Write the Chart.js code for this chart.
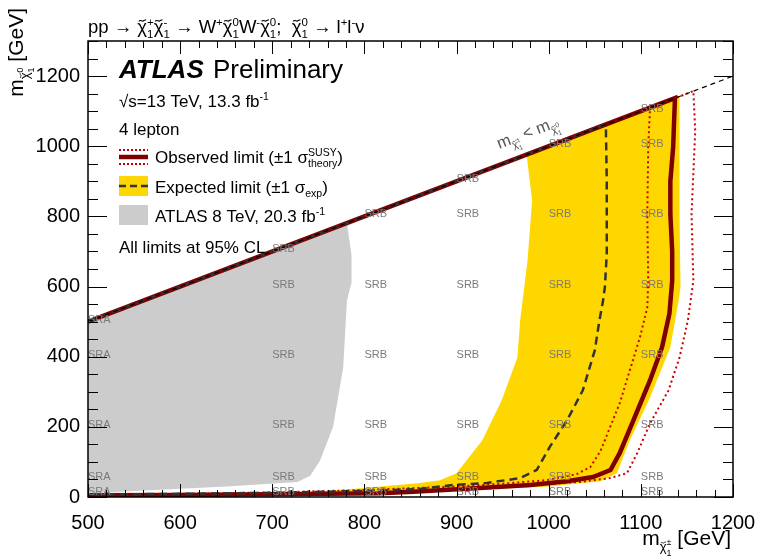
<!DOCTYPE html>
<html>
<head>
<meta charset="utf-8">
<script src="https://cdn.jsdelivr.net/npm/chart.js@4.4.1/dist/chart.umd.min.js"></script>
<style>
  html, body { margin: 0; padding: 0; background: #fff; }
</style>
</head>
<body>
<canvas id="myChart" width="757" height="559"></canvas>
<script>
// mass points in GeV: [m(chargino), m(neutralino)]
const kinematicLine = [[500, 500], [1200, 1200]];

const obsLimit = [[500, 500], [1137, 1137], [1135, 995], [1132, 900], [1132, 807], [1134, 700], [1134, 617],
    [1131, 523], [1123, 427], [1110, 333], [1092, 219], [1077, 125], [1067, 77], [1048, 57], [1020, 45],
    [980, 34], [925, 26], [853, 15], [817, 11], [700, 8], [600, 6], [500, 5]];

const obsTheoryDown = [[500, 500], [1110, 1110], [1108, 1000], [1107, 807], [1108, 617], [1107, 540],
    [1099, 455], [1088, 361], [1077, 267], [1064, 182], [1056, 130], [1045, 85], [1031, 66], [1016, 57],
    [998, 48], [950, 38], [900, 30], [800, 20], [700, 13], [600, 9], [500, 7]];

const obsTheoryUp = [[500, 500], [1157, 1157], [1159, 1043], [1155, 807], [1157, 617], [1151, 503],
    [1142, 398], [1130, 304], [1110, 210], [1096, 125], [1085, 68], [1067, 54], [1034, 43], [961, 32],
    [900, 22], [800, 12], [700, 7], [600, 4], [500, 3]];

const expLimit = [[500, 500], [1062, 1062], [1063, 900], [1063, 694], [1061, 600], [1059, 560], [1055, 503],
    [1050, 418], [1037, 304], [1020, 219], [1001, 142], [987, 77], [969, 54], [933, 40], [896, 34],
    [860, 23], [800, 17], [700, 12], [600, 9], [500, 7]];

// +1 sigma edge then -1 sigma edge back, closed
const expBand = [[976, 976], [1142, 1142], [1142, 1000], [1142, 807], [1143, 597], [1141, 560], [1132, 427],
    [1110, 284], [1088, 162], [1074, 68], [1056, 45], [1000, 30], [900, 18], [800, 10], [700, 6], [600, 3],
    [500, 2], [500, 5], [600, 7], [700, 10], [750, 16], [800, 26], [860, 40], [882, 48], [900, 68],
    [928, 162], [949, 276], [966, 398], [969, 503], [977, 674], [982, 845], [976, 976]];

const atlas8TeV = [[500, 11], [500, 500], [781, 781], [786, 690], [786, 611], [781, 560], [777, 370],
    [766, 200], [752, 105], [741, 60], [727, 43], [650, 30], [500, 11]];

// signal region labels at the grid points
const srPoints = [
    [500, 500, 'SRA'], [500, 400, 'SRA'], [500, 200, 'SRA'], [500, 50, 'SRA'], [500, 10, 'SRA'],
    [700, 700, 'SRB'], [700, 600, 'SRB'], [700, 400, 'SRB'], [700, 200, 'SRB'], [700, 50, 'SRB'], [700, 10, 'SRB'],
    [800, 800, 'SRB'], [800, 600, 'SRB'], [800, 400, 'SRB'], [800, 200, 'SRB'], [800, 50, 'SRB'], [800, 10, 'SRB'],
    [900, 900, 'SRB'], [900, 800, 'SRB'], [900, 600, 'SRB'], [900, 400, 'SRB'], [900, 200, 'SRB'], [900, 50, 'SRB'], [900, 10, 'SRB'],
    [1000, 1000, 'SRB'], [1000, 800, 'SRB'], [1000, 600, 'SRB'], [1000, 400, 'SRB'], [1000, 200, 'SRB'], [1000, 50, 'SRB'], [1000, 10, 'SRB'],
    [1100, 1100, 'SRB'], [1100, 1000, 'SRB'], [1100, 800, 'SRB'], [1100, 600, 'SRB'], [1100, 400, 'SRB'], [1100, 200, 'SRB'], [1100, 50, 'SRB'], [1100, 10, 'SRB']
];

const xRange = [500, 1200];
const yRange = [0, 1300];

const FONT = '"Liberation Sans", Arial, sans-serif';
const CHI = 'χ';

function pts(arr) {
    return arr.map(p => ({x: p[0], y: p[1]}));
}

// draws a row of text pieces with their own size / vertical shift
function rich(ctx, parts, x, y, size, draw) {
    let cx = x, held = 0;
    for (const p of parts) {
        const fs = size * (p.s || 1);
        ctx.font = (p.f || '') + ' ' + fs + 'px ' + FONT;
        const w = ctx.measureText(p.t).width;
        const by = y + (p.dy || 0) * size;
        if (draw) {
            ctx.fillText(p.t, cx, by);
            if (p.tilde) {
                // small tilde above the chi
                ctx.save();
                ctx.lineWidth = Math.max(0.8, fs * 0.06);
                ctx.strokeStyle = ctx.fillStyle;
                const tw = w * 0.75, tx = cx + w * 0.15, ty = by - fs * 0.66;
                ctx.beginPath();
                ctx.moveTo(tx, ty + fs * 0.03);
                ctx.bezierCurveTo(tx + tw * 0.3, ty - fs * 0.12, tx + tw * 0.45, ty + fs * 0.12, tx + tw * 0.7, ty - fs * 0.02);
                ctx.lineTo(tx + tw, ty - fs * 0.06);
                ctx.stroke();
                ctx.restore();
            }
        }
        if (p.hold) {
            held = Math.max(held, w);
        } else {
            cx += Math.max(w, held);
            held = 0;
        }
    }
    return cx - x;
}
const T = t => ({t});
const CH = () => ({t: CHI, tilde: true});
const SUP = t => ({t, s: 0.62, dy: -0.4});
const SUB = t => ({t, s: 0.62, dy: 0.25});
const SS = (a, b) => [{t: a, s: 0.62, dy: -0.4, hold: true}, {t: b, s: 0.62, dy: 0.25}];
const chiSub = (a, b) => [{t: CHI, s: 0.62, dy: 0.3, tilde: true}, {t: a, s: 0.42, dy: 0.02, hold: true}, {t: b, s: 0.42, dy: 0.52}];

const decor = {
    id: 'decor',
    afterDatasetsDraw(chart) {
        const {ctx, chartArea: a, scales: {x, y}} = chart;
        ctx.save();

        // signal region labels
        ctx.fillStyle = '#7a7a7a';
        ctx.font = '11px ' + FONT;
        ctx.textBaseline = 'middle';
        srPoints.forEach(p => {
            ctx.fillText(p[2], x.getPixelForValue(p[0]), y.getPixelForValue(p[1]) - 2);
        });
        ctx.textBaseline = 'alphabetic';

        // kinematic label along the diagonal
        const x0 = x.getPixelForValue(952), y0 = y.getPixelForValue(952);
        const ang = Math.atan2(y.getPixelForValue(1200) - y.getPixelForValue(500),
            x.getPixelForValue(1200) - x.getPixelForValue(500));
        ctx.save();
        ctx.translate(x0 + 15 * Math.sin(ang), y0 - 15 * Math.cos(ang));
        ctx.rotate(ang);
        ctx.fillStyle = '#555';
        rich(ctx, [T('m'), ...chiSub('±', '1'), T(' < m'), ...chiSub('0', '1')], 0, 0, 16.5, true);
        ctx.restore();

        // frame
        ctx.strokeStyle = '#000';
        ctx.lineWidth = 1.5;
        ctx.strokeRect(a.left, a.top, a.right - a.left, a.bottom - a.top);

        // inward ticks on all four sides
        ctx.lineWidth = 1;
        ctx.beginPath();
        for (let v = xRange[0]; v <= xRange[1]; v += 20) {
            const px = Math.round(x.getPixelForValue(v)) + 0.5;
            const len = v % 100 === 0 ? 13 : 7;
            ctx.moveTo(px, a.bottom); ctx.lineTo(px, a.bottom - len);
            ctx.moveTo(px, a.top); ctx.lineTo(px, a.top + len);
        }
        for (let v = yRange[0]; v <= yRange[1]; v += 50) {
            const py = Math.round(y.getPixelForValue(v)) + 0.5;
            const len = v % 200 === 0 ? 19 : 10;
            ctx.moveTo(a.left, py); ctx.lineTo(a.left + len, py);
            ctx.moveTo(a.right, py); ctx.lineTo(a.right - len, py);
        }
        ctx.stroke();

        // texts
        ctx.fillStyle = '#000';
        rich(ctx, [T('pp → '), CH(), ...SS('+', '1'), CH(), ...SS('-', '1'), T(' → W'), SUP('+'),
            CH(), ...SS('0', '1'), T('W'), SUP('-'), CH(), ...SS('0', '1'), T(';  '), CH(), ...SS('0', '1'),
            T(' → l'), SUP('+'), T('l'), SUP('-'), T('ν')], 88, 33, 18.5, true);

        ctx.font = 'italic bold 26px ' + FONT;
        ctx.fillText('ATLAS', 119, 78);
        ctx.font = '26px ' + FONT;
        ctx.fillText('Preliminary', 213, 78);

        rich(ctx, [T('√s=13 TeV, 13.3 fb'), SUP('-1')], 119, 107, 17, true);
        rich(ctx, [T('4 lepton')], 119, 135, 17, true);
        rich(ctx, [T('Observed limit (±1 σ'), ...SS('SUSY', 'theory'), T(')')], 155, 163, 17, true);
        rich(ctx, [T('Expected limit (±1 σ'), SUB('exp'), T(')')], 155, 193, 17, true);
        rich(ctx, [T('ATLAS 8 TeV, 20.3 fb'), SUP('-1')], 155, 222, 17, true);
        rich(ctx, [T('All limits at 95% CL')], 119, 253, 17, true);

        // legend symbols
        ctx.fillStyle = '#ffd700';
        ctx.fillRect(119, 176, 29, 20);
        ctx.fillStyle = '#cccccc';
        ctx.fillRect(119, 205, 29, 20);
        ctx.strokeStyle = '#333';
        ctx.lineWidth = 2.5;
        ctx.setLineDash([7, 4]);
        ctx.beginPath(); ctx.moveTo(119, 186); ctx.lineTo(148, 186); ctx.stroke();
        ctx.strokeStyle = '#cc0000';
        ctx.lineWidth = 2;
        ctx.setLineDash([2, 2]);
        ctx.beginPath(); ctx.moveTo(119, 150); ctx.lineTo(148, 150); ctx.moveTo(119, 164); ctx.lineTo(148, 164); ctx.stroke();
        ctx.setLineDash([]);
        ctx.strokeStyle = '#7f0000';
        ctx.lineWidth = 4.5;
        ctx.beginPath(); ctx.moveTo(119, 157); ctx.lineTo(148, 157); ctx.stroke();

        // axis titles
        ctx.fillStyle = '#000';
        const xt = [T('m'), ...chiSub('±', '1'), T(' [GeV]')];
        const wx = rich(ctx, xt, 0, 0, 21, false);
        rich(ctx, xt, 731 - wx, 545, 21, true);

        const yt = [T('m'), ...chiSub('0', '1'), T(' [GeV]')];
        const wy = rich(ctx, yt, 0, 0, 21, false);
        ctx.save();
        ctx.translate(23, 8 + wy);
        ctx.rotate(-Math.PI / 2);
        rich(ctx, yt, 0, 0, 21, true);
        ctx.restore();

        ctx.restore();
    }
};

const line = (label, data, color, width, dash, order) => ({
    label, data: pts(data), showLine: true, pointRadius: 0, borderColor: color,
    borderWidth: width, borderDash: dash, fill: false, tension: 0, order
});
const area = (label, data, color, order) => ({
    label, data: pts(data), showLine: true, pointRadius: 0, borderColor: 'rgba(0,0,0,0)',
    borderWidth: 0, backgroundColor: color, fill: 'shape', tension: 0, order
});

new Chart(document.getElementById('myChart'), {
    type: 'scatter',
    data: {
        datasets: [
            line('kinematic', kinematicLine, '#000', 1.2, [5, 4], 0),
            line('Expected limit', expLimit, '#333', 2.5, [8, 5], 1),
            line('Observed limit', obsLimit, '#7f0000', 4.5, [], 2),
            line('Observed +1 sigma theory', obsTheoryUp, '#cc0000', 2, [2, 3], 3),
            line('Observed -1 sigma theory', obsTheoryDown, '#cc0000', 2, [2, 3], 4),
            area('Expected +-1 sigma', expBand, '#ffd700', 5),
            area('ATLAS 8 TeV', atlas8TeV, '#cccccc', 6)
        ]
    },
    options: {
        responsive: false,
        animation: false,
        events: [],
        layout: { padding: { left: 0, right: 24, top: 41, bottom: 0 } },
        plugins: {
            legend: { display: false },
            tooltip: { enabled: false }
        },
        scales: {
            x: {
                type: 'linear',
                min: xRange[0],
                max: xRange[1],
                grid: { display: false, drawTicks: false },
                border: { display: false },
                ticks: {
                    stepSize: 100,
                    padding: 14,
                    color: '#000',
                    font: { family: FONT, size: 20 },
                    callback: v => String(v)
                },
                afterFit: s => { s.height = 62; s.paddingLeft = 0; s.paddingRight = 0; }
            },
            y: {
                type: 'linear',
                min: yRange[0],
                max: yRange[1],
                grid: { display: false, drawTicks: false },
                border: { display: false },
                ticks: {
                    stepSize: 200,
                    padding: 8,
                    color: '#000',
                    font: { family: FONT, size: 20 },
                    callback: v => (v % 200 === 0 ? String(v) : '')
                },
                afterFit: s => { s.width = 88; s.paddingTop = 0; s.paddingBottom = 0; }
            }
        }
    },
    plugins: [decor]
});
</script>
</body>
</html>
